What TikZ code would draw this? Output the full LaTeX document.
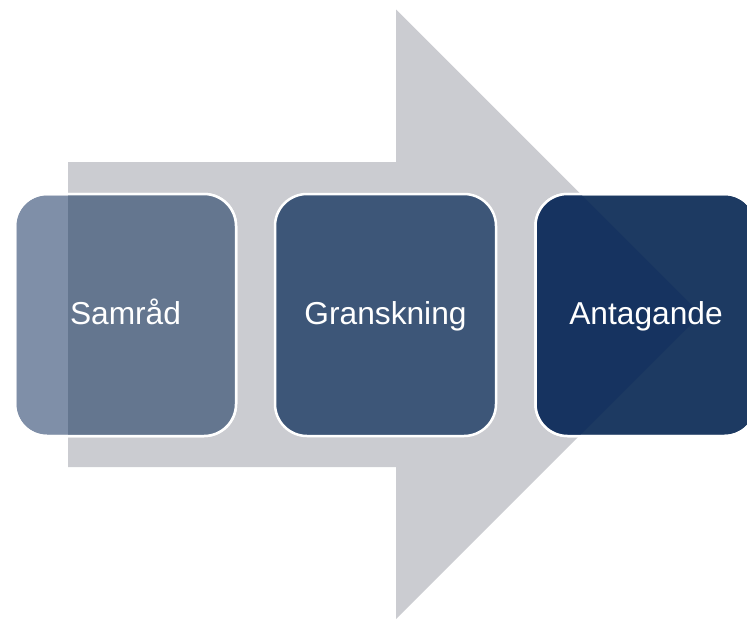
\documentclass[tikz,border=0pt]{standalone}
\usepackage{fontspec}
\setmainfont{Liberation Sans}
\definecolor{arrowgrey}{HTML}{CBCCD1}
\definecolor{stageonelight}{HTML}{7F8FA8}
\definecolor{stageonedark}{HTML}{64768F}
\definecolor{stagetwo}{HTML}{3D5678}
\definecolor{stagethreelight}{HTML}{1D3A62}
\definecolor{stagethreedark}{HTML}{163360}
\begin{document}
\begin{tikzpicture}[x=1pt,y=-1pt,
  stagebox/.style={rectangle, rounded corners=32pt, draw=white, line width=2.5pt,
    minimum width=221pt, minimum height=242pt, outer sep=0pt, inner sep=0pt,
    text=white, font=\fontsize{31.7pt}{38pt}\selectfont,
    text height=19pt, text depth=0pt},
  stagelabel/.style={text=white, font=\fontsize{31.7pt}{38pt}\selectfont,
    text height=19pt, text depth=0pt, inner sep=0pt},
  stageedge/.style={draw=white, line width=2.5pt, rounded corners=32pt}]
\useasboundingbox (0,0) rectangle (747,619);
\clip (0,0) rectangle (747,619);

% large process arrow in the background
\def\arrowpath{(68,162) -- (396,162) -- (396,9.5) -- (701,314.25) -- (396,619) -- (396,467) -- (68,467) -- cycle}
\fill[arrowgrey] \arrowpath;

% stage boxes
\node[stagebox, fill=stageonelight] (samrad) at (125.5,315) {};
\node[stagebox, fill=stagetwo] (granskning) at (385.5,315) {Granskning};
\node[stagebox, fill=stagethreelight] (antagande) at (646,315) {};

% parts of the translucent boxes lying over the arrow
\begin{scope}
  \clip \arrowpath;
  \fill[stageonedark, rounded corners=32pt] (samrad.south west) rectangle (samrad.north east);
  \fill[stagethreedark, rounded corners=32pt] (antagande.south west) rectangle (antagande.north east);
\end{scope}
\draw[stageedge] (samrad.south west) rectangle (samrad.north east);
\draw[stageedge] (antagande.south west) rectangle (antagande.north east);

% labels of the translucent boxes
\node[stagelabel] (samradlabel) at (samrad.center) {Samråd};
\node[stagelabel] (antagandelabel) at (antagande.center) {Antagande};
\end{tikzpicture}
\end{document}
